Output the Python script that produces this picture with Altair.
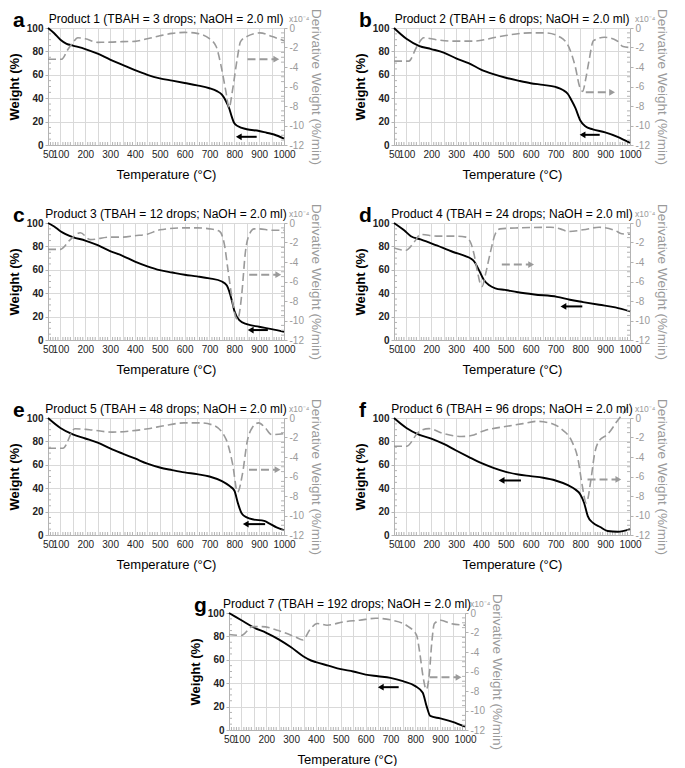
import altair as alt
import pandas as pd

# ---------------- data ----------------
titles = [
    "Product 1 (TBAH = 3 drops; NaOH = 2.0 ml)",
    "Product 2 (TBAH = 6 drops; NaOH = 2.0 ml)",
    "Product 3 (TBAH = 12 drops; NaOH = 2.0 ml)",
    "Product 4 (TBAH = 24 drops; NaOH = 2.0 ml)",
    "Product 5 (TBAH = 48 drops; NaOH = 2.0 ml)",
    "Product 6 (TBAH = 96 drops; NaOH = 2.0 ml)",
    "Product 7 (TBAH = 192 drops; NaOH = 2.0 ml)",
]
letters = ["a", "b", "c", "d", "e", "f", "g"]

# Panel a
a_wT = [50, 75, 100, 125, 150, 200, 250, 300, 350, 400, 450, 500, 550, 600, 650, 700, 730, 750, 765, 780, 790, 800, 815, 850, 900, 930, 960, 1000]
a_w = [100, 95.5, 90, 86.5, 85, 82, 78, 73, 68.5, 64, 60, 57, 55, 53, 51, 48.5, 46, 43, 38, 31, 24, 18.5, 16, 13.5, 12, 10.5, 9, 5.5]
a_dT = [50, 105, 130, 150, 170, 200, 250, 300, 350, 400, 450, 500, 550, 600, 650, 700, 727, 746, 766, 779, 792, 812, 825, 851, 903, 949, 1000]
a_d = [-3.2, -3.2, -2.2, -1.5, -1.0, -1.1, -1.47, -1.45, -1.4, -1.37, -1.1, -0.8, -0.55, -0.45, -0.55, -1.1, -1.9, -3.8, -6.5, -8.2, -6.5, -3.1, -1.4, -0.86, -0.5, -0.85, -1.3]

# Panel b
b_wT = [50, 100, 150, 200, 250, 300, 350, 400, 450, 500, 550, 600, 650, 700, 730, 750, 765, 780, 800, 820, 850, 900, 950, 1000]
b_w = [100, 90.8, 84.8, 82, 79, 74, 70, 64.5, 60.6, 57.5, 55, 52.8, 51.4, 49.6, 47, 43.6, 38, 31.7, 21, 16, 13.4, 10.8, 7, 1.8]
b_dT = [50, 110, 140, 170, 220, 295, 370, 470, 595, 660, 720, 758, 780, 797, 809, 822, 834, 853, 897, 947, 972, 1000]
b_d = [-3.4, -3.4, -2.0, -1.0, -1.2, -1.35, -1.35, -0.9, -0.5, -0.5, -0.95, -2.2, -4.0, -6.0, -6.5, -5.2, -3.5, -1.3, -0.95, -1.3, -1.9, -2.0]

# Panel c
c_wT = [50, 75, 100, 150, 200, 250, 300, 350, 400, 450, 500, 550, 600, 650, 700, 750, 770, 790, 800, 820, 850, 900, 950, 1000]
c_w = [100, 97, 93, 88, 85, 81, 76, 72, 67, 63, 59.7, 57.7, 55.8, 54.4, 52.7, 50, 46.5, 33.8, 25, 17, 13.5, 11.3, 9.3, 7]
c_dT = [50, 100, 140, 180, 220, 300, 350, 400, 450, 500, 600, 650, 700, 740, 760, 775, 790, 805, 814, 822, 830, 845, 860, 880, 900, 950, 1000]
c_d = [-2.7, -2.7, -1.7, -1.0, -1.7, -1.45, -1.45, -1.3, -1.15, -0.7, -0.5, -0.5, -0.6, -0.85, -2.2, -4.9, -7.6, -9.6, -9.9, -9.0, -7.3, -2.9, -1.2, -0.6, -0.6, -0.75, -0.75]

# Panel d
d_wT = [50, 92, 118, 157, 222, 288, 340, 360, 375, 392, 412, 432, 458, 497, 549, 615, 706, 758, 811, 876, 941, 1000]
d_w = [100, 93.5, 88.7, 86, 80.8, 75.2, 71.5, 69.5, 66.5, 59.7, 51.3, 47, 44.2, 42.8, 40.8, 38.9, 36.9, 34.4, 32.4, 30.1, 27.9, 24.5]
d_dT = [50, 98, 131, 157, 222, 288, 340, 360, 373, 386, 399, 405, 418, 438, 458, 477, 549, 680, 719, 752, 811, 876, 941, 967, 1000]
d_d = [-2.57, -2.8, -1.96, -1.18, -1.35, -1.35, -1.45, -2.1, -3.3, -5.0, -6.35, -6.5, -5.3, -3.0, -1.1, -0.6, -0.5, -0.44, -0.6, -0.88, -0.7, -0.44, -0.78, -1.1, -1.15]

# Panel e
e_wT = [50, 100, 150, 200, 250, 300, 350, 400, 450, 500, 550, 600, 650, 700, 750, 780, 800, 815, 830, 850, 880, 920, 940, 970, 1000]
e_w = [100, 91.5, 86, 82.5, 78.9, 74, 69.6, 65.4, 61, 57.7, 55.5, 53.5, 52, 50, 46, 42, 38, 26.8, 18.3, 15, 13.2, 12, 10, 6.5, 4.2]
e_dT = [50, 110, 158, 217, 309, 375, 453, 519, 597, 663, 715, 767, 793, 813, 833, 852, 872, 898, 924, 950, 1000]
e_d = [-3.1, -3.1, -1.1, -1.2, -1.45, -1.35, -1.1, -0.78, -0.5, -0.5, -0.74, -2.2, -4.7, -7.6, -5.7, -2.4, -1.0, -0.5, -1.0, -1.7, -1.6]

# Panel f
f_wT = [50, 100, 150, 200, 250, 300, 350, 400, 450, 500, 550, 600, 650, 700, 750, 780, 800, 815, 830, 850, 880, 910, 950, 1000]
f_w = [100, 91.5, 85.8, 82.4, 77.8, 72.2, 66.8, 61.6, 57.4, 54, 51.7, 50.3, 48.9, 46.6, 42.6, 38.9, 34.7, 27.6, 16.2, 10.5, 6.8, 3.4, 2.8, 5.1]
f_dT = [50, 100, 152, 191, 243, 322, 361, 413, 504, 569, 622, 687, 727, 766, 792, 805, 824, 844, 857, 877, 909, 948, 987, 1000]
f_d = [-2.9, -2.9, -1.37, -1.09, -1.54, -1.9, -1.8, -1.3, -0.85, -0.58, -0.34, -0.58, -1.2, -2.4, -4.4, -6.5, -8.7, -6.1, -3.75, -2.3, -1.7, -0.34, 1.0, 1.5]

# Panel g
g_wT = [50, 100, 150, 200, 250, 300, 350, 380, 400, 450, 500, 550, 600, 650, 700, 750, 800, 830, 845, 860, 900, 950, 1000]
g_w = [100, 93.8, 87.6, 83, 77.5, 70.7, 62.8, 59.4, 58, 55, 52, 50, 47.3, 45.9, 44.5, 41.7, 37.5, 31.8, 20.6, 12, 9.9, 7, 2.8]
g_dT = [50, 100, 145, 184, 249, 315, 348, 374, 406, 445, 511, 576, 641, 707, 772, 805, 818, 831, 844, 857, 866, 877, 903, 942, 1000]
g_d = [-2.2, -2.3, -1.4, -1.4, -1.8, -2.43, -2.77, -1.76, -1.08, -1.25, -0.91, -0.74, -0.54, -0.74, -1.4, -2.26, -4.1, -6.5, -7.84, -6.1, -3.1, -1.08, -0.74, -1.08, -1.25]

# arrows: (tail temperature, head temperature, value)
grey_arrows = [(853, 969, -3.2), (822, 928, -6.6), (860, 977, -5.3), (484, 602, -4.26),
               (859, 974, -5.3), (829, 953, -6.3), (857, 974, -6.6)]
black_arrows = [(890, 818, 7.0), (878, 809, 8.7), (935, 866, 8.5), (808, 732, 28.7),
                (924, 846, 9.3), (561, 483, 46.6), (733, 661, 36.6)]

x_tick_values = list(range(50, 1001, 50))
w_tick_values = [0, 20, 40, 60, 80, 100]
d_tick_values = [-12, -10, -8, -6, -4, -2, 0]
minor_T = [t for t in range(50, 1001, 10) if t % 50]
minor_w = [v for v in range(0, 101, 5) if v % 20]
minor_d = [v / 2 for v in range(-24, 1) if v % 4]

series = [
    (a_wT, a_w, a_dT, a_d), (b_wT, b_w, b_dT, b_d), (c_wT, c_w, c_dT, c_d),
    (d_wT, d_w, d_dT, d_d), (e_wT, e_w, e_dT, e_d), (f_wT, f_w, f_dT, f_d),
    (g_wT, g_w, g_dT, g_d),
]

# ---------------- styling ----------------
FONT = "Liberation Sans"
W, H = 236, 117
GREY = "#9a9a9a"
GRID = "#d9d9d9"
AXIS = "#b3b3b3"
NB = "\u00a0"


def panel(i):
    wT, w, dT, d = series[i]
    xenc = alt.X("T:Q",
                 scale=alt.Scale(domain=[50, 1000], nice=False, zero=False),
                 axis=alt.Axis(values=x_tick_values,
                               labelExpr="datum.value == 50 ? '50" + NB + NB + "' : (datum.value % 100 == 0 ? '' + datum.value : '')",
                               grid=True, gridColor=GRID, ticks=False, domainColor=AXIS,
                               labelFlush=False, labelOverlap=False, labelFontSize=10,
                               labelColor="#222", labelPadding=4,
                               title="Temperature (°C)", titleFontSize=13,
                               titleFontWeight="normal", titlePadding=9))
    yw = alt.Y("w:Q",
               scale=alt.Scale(domain=[0, 100], nice=False, zero=False),
               axis=alt.Axis(values=w_tick_values, grid=True, gridColor=GRID,
                             domainColor=AXIS, tickColor=AXIS, tickSize=3,
                             labelFontWeight="bold", labelFontSize=10, labelColor="#222",
                             labelPadding=2, title="Weight (%)", titleFontSize=13,
                             titleFontWeight="bold", titleColor="black", titlePadding=5))
    yd = alt.Y("d:Q",
               scale=alt.Scale(domain=[-12, 0], nice=False, zero=False),
               axis=alt.Axis(orient="right", values=d_tick_values, grid=False,
                             labelExpr="'' + datum.value", labelColor=GREY,
                             labelFontSize=10, tickColor=AXIS, tickSize=3,
                             domainColor=AXIS, labelPadding=2,
                             title="Derivative Weight (%/min)", titleColor=GREY,
                             titleFontSize=13.5, titleFontWeight="normal", titlePadding=5))

    wdf = pd.DataFrame({"T": wT, "w": w})
    ddf = pd.DataFrame({"T": dT, "d": d})
    gt, gh, gv = grey_arrows[i]
    bt, bh, bv = black_arrows[i]

    w_line = alt.Chart(wdf).mark_line(color="black", strokeWidth=1.9,
                                      interpolate="monotone").encode(x=xenc, y=yw)
    b_rule = alt.Chart(pd.DataFrame({"T": [bt], "T2": [bh], "w": [bv]})).mark_rule(
        color="black", strokeWidth=2).encode(x=xenc, x2="T2:Q", y=yw)
    b_head = alt.Chart(pd.DataFrame({"T": [bh], "w": [bv]})).mark_point(
        shape="triangle-left", filled=True, color="black", size=45, opacity=1).encode(x=xenc, y=yw)
    w_minor = alt.Chart(pd.DataFrame({"w": minor_w})).mark_rule(color=AXIS).encode(
        y=yw, x=alt.value(0), x2=alt.value(3))
    t_minor = alt.Chart(pd.DataFrame({"T": minor_T})).mark_rule(color=AXIS).encode(
        x=xenc, y=alt.value(H), y2=alt.value(H - 3))
    wgroup = alt.layer(t_minor, w_minor, w_line, b_rule, b_head)

    d_line = alt.Chart(ddf).mark_line(color=GREY, strokeWidth=1.6, strokeDash=[8, 4],
                                      interpolate="monotone").encode(x=xenc, y=yd)
    g_rule = alt.Chart(pd.DataFrame({"T": [gt], "T2": [gh], "d": [gv]})).mark_rule(
        color=GREY, strokeWidth=2, strokeDash=[8, 4]).encode(x=xenc, x2="T2:Q", y=yd)
    g_head = alt.Chart(pd.DataFrame({"T": [gh], "d": [gv]})).mark_point(
        shape="triangle-right", filled=True, color=GREY, size=45, opacity=1).encode(x=xenc, y=yd)
    d_minor = alt.Chart(pd.DataFrame({"d": minor_d})).mark_rule(color=AXIS).encode(
        y=yd, x=alt.value(W - 3), x2=alt.value(W))
    dgroup = alt.layer(d_minor, d_line, g_rule, g_head)

    letter = alt.Chart(pd.DataFrame({"lab": [letters[i]]})).mark_text(
        font=FONT, fontSize=21, fontWeight="bold", align="left", baseline="alphabetic",
        color="black").encode(x=alt.value(-35), y=alt.value(-1), text="lab:N")
    mult = alt.Chart(pd.DataFrame({"lab": ["x10⁻⁴"]})).mark_text(
        font=FONT, fontSize=8.5, align="left", baseline="alphabetic", color=GREY).encode(
        x=alt.value(W + 5), y=alt.value(-6), text="lab:N")
    ttl = alt.Chart(pd.DataFrame({"lab": [titles[i]]})).mark_text(
        font=FONT, fontSize=12, align="center", baseline="alphabetic", color="black").encode(
        x=alt.value(W / 2), y=alt.value(-5), text="lab:N")

    return alt.layer(wgroup, dgroup, letter, mult, ttl).resolve_scale(y="independent").properties(
        width=W, height=H)


p = [panel(i) for i in range(7)]
spacer = alt.Chart(pd.DataFrame({"z": [0]})).mark_point(opacity=0).encode(
    x=alt.value(0), y=alt.value(0)).properties(width=1, height=H)

HSP = 110
row1 = alt.hconcat(p[0], p[1], spacing=HSP, bounds="flush")
row2 = alt.hconcat(p[2], p[3], spacing=HSP, bounds="flush")
row3 = alt.hconcat(p[4], p[5], spacing=HSP, bounds="flush")
row4 = alt.hconcat(spacer, p[6], spacing=180, bounds="flush")

chart = alt.vconcat(row1, row2, row3, row4, spacing=22).properties(
    padding=0
).configure(font=FONT).configure_view(stroke=None).configure_axis(
    labelFont=FONT, titleFont=FONT).configure_title(font=FONT)

chart.save("out.html", embed_options={"renderer": "svg", "actions": False})
